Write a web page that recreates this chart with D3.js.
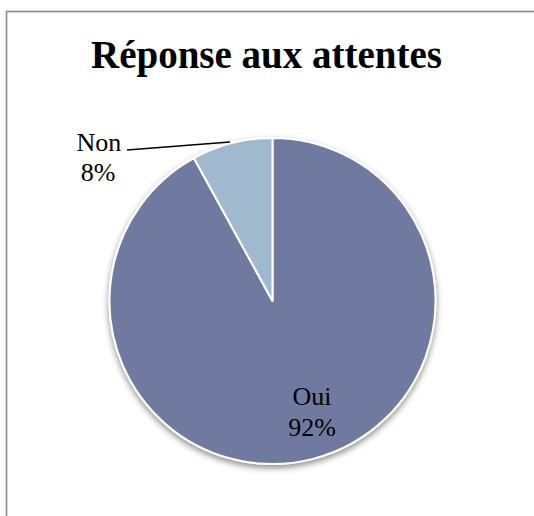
<!DOCTYPE html>
<html>
<head>
<meta charset="utf-8">
<script src="https://cdn.jsdelivr.net/npm/d3@7"></script>
<style>
  html, body { margin: 0; padding: 0; background: #fff; }
  svg { display: block; }
</style>
</head>
<body>
<div id="chart"></div>
<script>
// data
var categories = ["Oui", "Non"];
var values = [92, 8];
var colors = ["#707aa1", "#a1b9cf"];

var W = 534, H = 516;
var cx = 272.5, cy = 301, radius = 163;

var svg = d3.select("#chart").append("svg")
    .attr("width", W)
    .attr("height", H);

// drop shadow under the pie
var defs = svg.append("defs");
var f = defs.append("filter").attr("id", "shadow")
    .attr("x", "-20%").attr("y", "-20%").attr("width", "140%").attr("height", "140%");
f.append("feDropShadow")
    .attr("dx", 0).attr("dy", 3)
    .attr("stdDeviation", 3)
    .attr("flood-color", "#000")
    .attr("flood-opacity", 0.45);

// chart frame (runs off right and bottom)
svg.append("rect")
    .attr("x", 6.5).attr("y", 11.5)
    .attr("width", 700).attr("height", 700)
    .attr("fill", "#fff")
    .attr("stroke", "#898989")
    .attr("stroke-width", 1.6);

svg.append("text")
    .text("Réponse aux attentes")
    .attr("x", 266.5)
    .attr("y", 68)
    .attr("text-anchor", "middle")
    .attr("font-family", "'Liberation Serif', 'DejaVu Serif', serif")
    .attr("font-weight", "bold")
    .attr("font-size", "39px")
    .attr("fill", "#000");

var pie = d3.pie().sort(null).value(function(d){ return d; });
var arcs = pie(values);

var arc = d3.arc().innerRadius(0).outerRadius(radius);
var labelArc = d3.arc().innerRadius(radius * 0.68).outerRadius(radius * 0.68);
var edgeArc = d3.arc().innerRadius(radius).outerRadius(radius);

var g = svg.append("g").attr("transform", "translate(" + cx + "," + cy + ")");

g.append("g").attr("filter", "url(#shadow)")
  .selectAll("path")
  .data(arcs)
  .enter().append("path")
    .attr("d", arc)
    .attr("fill", function(d, i){ return colors[i]; })
    .attr("stroke", "#fff")
    .attr("stroke-width", 2)
    .attr("stroke-linejoin", "round");

var fontFam = "'Liberation Serif', 'DejaVu Serif', serif";
var total = d3.sum(values);

// Oui: inside the slice
var ouiPos = labelArc.centroid(arcs[0]);
var tOui = g.append("text")
    .attr("text-anchor", "middle")
    .attr("font-family", fontFam)
    .attr("font-size", "26px")
    .attr("fill", "#000");
tOui.append("tspan").attr("x", ouiPos[0] + 12).attr("y", ouiPos[1] - 3).text(categories[0]);
tOui.append("tspan").attr("x", ouiPos[0] + 12).attr("y", ouiPos[1] + 28)
    .text(Math.round(values[0] / total * 100) + "%");

// Non: outside with leader line
var edge = edgeArc.centroid(arcs[1]);
var lineStart = [edge[0] - 105, edge[1] + 7];
g.append("line")
    .attr("x1", lineStart[0]).attr("y1", lineStart[1])
    .attr("x2", edge[0] - 2).attr("y2", edge[1] - 1)
    .attr("stroke", "#000")
    .attr("stroke-width", 1.5);

var tNon = g.append("text")
    .attr("text-anchor", "middle")
    .attr("font-family", fontFam)
    .attr("font-size", "26px")
    .attr("fill", "#000");
tNon.append("tspan").attr("x", lineStart[0] - 28).attr("y", lineStart[1] + 1).text(categories[1]);
tNon.append("tspan").attr("x", lineStart[0] - 29).attr("y", lineStart[1] + 31)
    .text(Math.round(values[1] / total * 100) + "%");
</script>
</body>
</html>
